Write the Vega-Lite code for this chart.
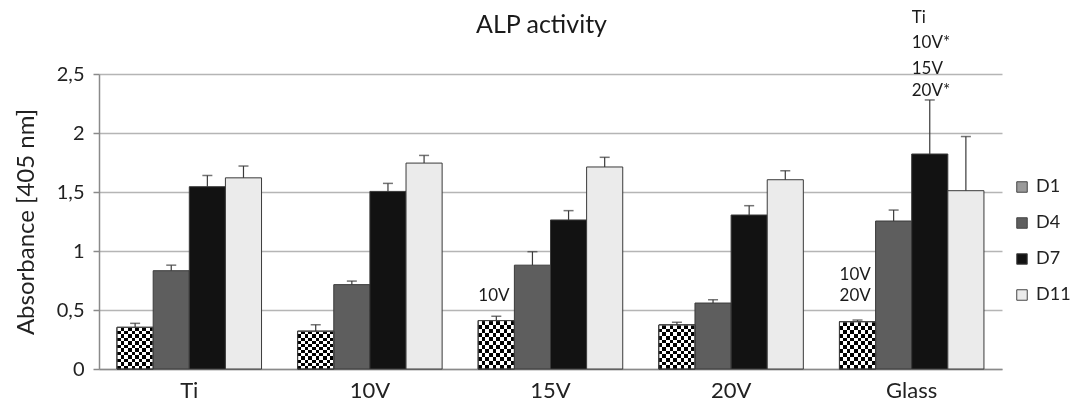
{
  "$schema": "https://vega.github.io/schema/vega-lite/v6.json",
  "autosize": {"type": "none"},
  "padding": {"left": 99, "top": 74, "right": 68, "bottom": 33},
  "width": 903,
  "height": 295,
  "background": "white",
  "config": {
    "font": "Lato",
    "view": {"stroke": null},
    "axis": {"labelColor": "#222222", "titleColor": "#222222", "labelFont": "Lato", "titleFont": "Lato", "titleFontWeight": "normal"}
  },
  "title": {"text": "ALP activity", "fontSize": 25, "fontWeight": "normal", "color": "#1a1a1a", "offset": -29, "dx": -9, "font": "Lato"},
  "datasets": {
    "bars": [
      {"group": "Ti", "series": "D1", "value": 0.353, "err": 0.387},
      {"group": "Ti", "series": "D4", "value": 0.833, "err": 0.88},
      {"group": "Ti", "series": "D7", "value": 1.545, "err": 1.64},
      {"group": "Ti", "series": "D11", "value": 1.62, "err": 1.72},
      {"group": "10V", "series": "D1", "value": 0.32, "err": 0.375},
      {"group": "10V", "series": "D4", "value": 0.715, "err": 0.745},
      {"group": "10V", "series": "D7", "value": 1.505, "err": 1.573},
      {"group": "10V", "series": "D11", "value": 1.745, "err": 1.81},
      {"group": "15V", "series": "D1", "value": 0.41, "err": 0.447},
      {"group": "15V", "series": "D4", "value": 0.88, "err": 0.994},
      {"group": "15V", "series": "D7", "value": 1.263, "err": 1.342},
      {"group": "15V", "series": "D11", "value": 1.712, "err": 1.794},
      {"group": "20V", "series": "D1", "value": 0.373, "err": 0.396},
      {"group": "20V", "series": "D4", "value": 0.559, "err": 0.587},
      {"group": "20V", "series": "D7", "value": 1.305, "err": 1.384},
      {"group": "20V", "series": "D11", "value": 1.604, "err": 1.68},
      {"group": "Glass", "series": "D1", "value": 0.4, "err": 0.415},
      {"group": "Glass", "series": "D4", "value": 1.254, "err": 1.347},
      {"group": "Glass", "series": "D7", "value": 1.822, "err": 2.28},
      {"group": "Glass", "series": "D11", "value": 1.511, "err": 1.97}
    ],
    "notes": [
      {"group": "15V", "series": "D1", "label": "10V", "y": 0.619},
      {"group": "Glass", "series": "D1", "label": "10V", "y": 0.8},
      {"group": "Glass", "series": "D1", "label": "20V", "y": 0.622},
      {"group": "Glass", "series": "D7", "label": "Ti", "y": 2.975},
      {"group": "Glass", "series": "D7", "label": "10V*", "y": 2.763},
      {"group": "Glass", "series": "D7", "label": "15V", "y": 2.546},
      {"group": "Glass", "series": "D7", "label": "20V*", "y": 2.352}
    ]
  },
  "encoding": {
    "x": {
      "field": "group", "type": "nominal",
      "sort": ["Ti", "10V", "15V", "20V", "Glass"],
      "scale": {"paddingInner": 0.2, "paddingOuter": 0.1},
      "axis": {"title": null, "labelAngle": 0, "labelFontSize": 22, "labelPadding": 11, "ticks": false, "domainColor": "#8a8a8a", "domainWidth": 1.5}
    },
    "xOffset": {"field": "series", "type": "nominal", "sort": ["D1", "D4", "D7", "D11"], "scale": {"paddingInner": 0, "paddingOuter": 0}}
  },
  "layer": [
    {
      "data": {"name": "bars"},
      "mark": {"type": "bar", "stroke": "#3a3a3a", "strokeWidth": 1},
      "encoding": {
        "y": {
          "field": "value", "type": "quantitative",
          "scale": {"domain": [0, 2.5], "nice": false, "zero": true},
          "axis": {
            "values": [0, 0.5, 1, 1.5, 2, 2.5],
            "labelExpr": "replace(datum.label, '.', ',')",
            "format": "~g",
            "labelFontSize": 20, "labelPadding": 9,
            "tickSize": 6, "tickColor": "#8a8a8a", "tickWidth": 1.5,
            "domainColor": "#8a8a8a", "domainWidth": 1.5,
            "gridColor": "#b5b5b5", "gridWidth": 1.5,
            "title": "Absorbance [405 nm]", "titleFontSize": 24, "titlePadding": 18
          }
        },
        "fill": {
          "field": "series", "type": "nominal",
          "sort": ["D1", "D4", "D7", "D11"],
          "scale": {"domain": ["D1", "D4", "D7", "D11"], "range": ["#9a9a9a", "#5e5e5e", "#121212", "#ebebeb"]},
          "legend": {
            "title": null, "orient": "none", "legendX": 914, "legendY": 104,
            "symbolType": "square", "symbolSize": 110, "symbolStrokeColor": "#444444", "symbolStrokeWidth": 1,
            "labelFontSize": 18, "labelColor": "#222222", "rowPadding": 18, "labelOffset": 5
          }
        }
      }
    },
    {
      "data": {"name": "bars"},
      "transform": [{"filter": "datum.series === 'D1'"}],
      "mark": {
        "type": "bar", "stroke": "#3a3a3a", "strokeWidth": 1,
        "fill": {"gradient": "linear", "x1": 0, "y1": 0, "x2": 1, "y2": 0, "stops": [
          {"offset": 0, "color": "#000000"}, {"offset": 0.1, "color": "#000000"},
          {"offset": 0.1, "color": "#ffffff"}, {"offset": 0.2, "color": "#ffffff"},
          {"offset": 0.2, "color": "#000000"}, {"offset": 0.3, "color": "#000000"},
          {"offset": 0.3, "color": "#ffffff"}, {"offset": 0.4, "color": "#ffffff"},
          {"offset": 0.4, "color": "#000000"}, {"offset": 0.5, "color": "#000000"},
          {"offset": 0.5, "color": "#ffffff"}, {"offset": 0.6, "color": "#ffffff"},
          {"offset": 0.6, "color": "#000000"}, {"offset": 0.7, "color": "#000000"},
          {"offset": 0.7, "color": "#ffffff"}, {"offset": 0.8, "color": "#ffffff"},
          {"offset": 0.8, "color": "#000000"}, {"offset": 0.9, "color": "#000000"},
          {"offset": 0.9, "color": "#ffffff"}, {"offset": 1, "color": "#ffffff"}
        ]}
      },
      "encoding": {"y": {"field": "value", "type": "quantitative"}}
    },
    {
      "data": {"name": "bars"},
      "transform": [{"filter": "datum.series === 'D1'"}],
      "mark": {
        "type": "bar", "blend": "difference",
        "fill": {"gradient": "linear", "x1": 0, "y1": 0, "x2": 0, "y2": 1, "stops": [
          {"offset": 0, "color": "rgba(255,255,255,1)"}, {"offset": 0.0833, "color": "rgba(255,255,255,1)"},
          {"offset": 0.0833, "color": "rgba(255,255,255,0)"}, {"offset": 0.1667, "color": "rgba(255,255,255,0)"},
          {"offset": 0.1667, "color": "rgba(255,255,255,1)"}, {"offset": 0.25, "color": "rgba(255,255,255,1)"},
          {"offset": 0.25, "color": "rgba(255,255,255,0)"}, {"offset": 0.3333, "color": "rgba(255,255,255,0)"},
          {"offset": 0.3333, "color": "rgba(255,255,255,1)"}, {"offset": 0.4167, "color": "rgba(255,255,255,1)"},
          {"offset": 0.4167, "color": "rgba(255,255,255,0)"}, {"offset": 0.5, "color": "rgba(255,255,255,0)"},
          {"offset": 0.5, "color": "rgba(255,255,255,1)"}, {"offset": 0.5833, "color": "rgba(255,255,255,1)"},
          {"offset": 0.5833, "color": "rgba(255,255,255,0)"}, {"offset": 0.6667, "color": "rgba(255,255,255,0)"},
          {"offset": 0.6667, "color": "rgba(255,255,255,1)"}, {"offset": 0.75, "color": "rgba(255,255,255,1)"},
          {"offset": 0.75, "color": "rgba(255,255,255,0)"}, {"offset": 0.8333, "color": "rgba(255,255,255,0)"},
          {"offset": 0.8333, "color": "rgba(255,255,255,1)"}, {"offset": 0.9167, "color": "rgba(255,255,255,1)"},
          {"offset": 0.9167, "color": "rgba(255,255,255,0)"}, {"offset": 1, "color": "rgba(255,255,255,0)"}
        ]}
      },
      "encoding": {"y": {"field": "value", "type": "quantitative"}}
    },
    {
      "data": {"name": "bars"},
      "transform": [{"filter": "datum.series === 'D1'"}],
      "mark": {"type": "bar", "fillOpacity": 0, "fill": "#ffffff", "stroke": "#3a3a3a", "strokeWidth": 1},
      "encoding": {"y": {"field": "value", "type": "quantitative"}}
    },
    {
      "data": {"name": "bars"},
      "mark": {"type": "rule", "color": "#3a3a3a", "strokeWidth": 1.2},
      "encoding": {
        "y": {"field": "value", "type": "quantitative"},
        "y2": {"field": "err"}
      }
    },
    {
      "data": {"name": "bars"},
      "mark": {"type": "tick", "color": "#3a3a3a", "thickness": 1.5, "size": 10, "orient": "horizontal"},
      "encoding": {"y": {"field": "err", "type": "quantitative"}}
    },
    {
      "data": {"name": "notes"},
      "mark": {"type": "text", "align": "left", "baseline": "middle", "dx": -18, "fontSize": 17, "color": "#1a1a1a", "font": "Lato"},
      "encoding": {
        "y": {"field": "y", "type": "quantitative"},
        "text": {"field": "label"}
      }
    }
  ]
}
